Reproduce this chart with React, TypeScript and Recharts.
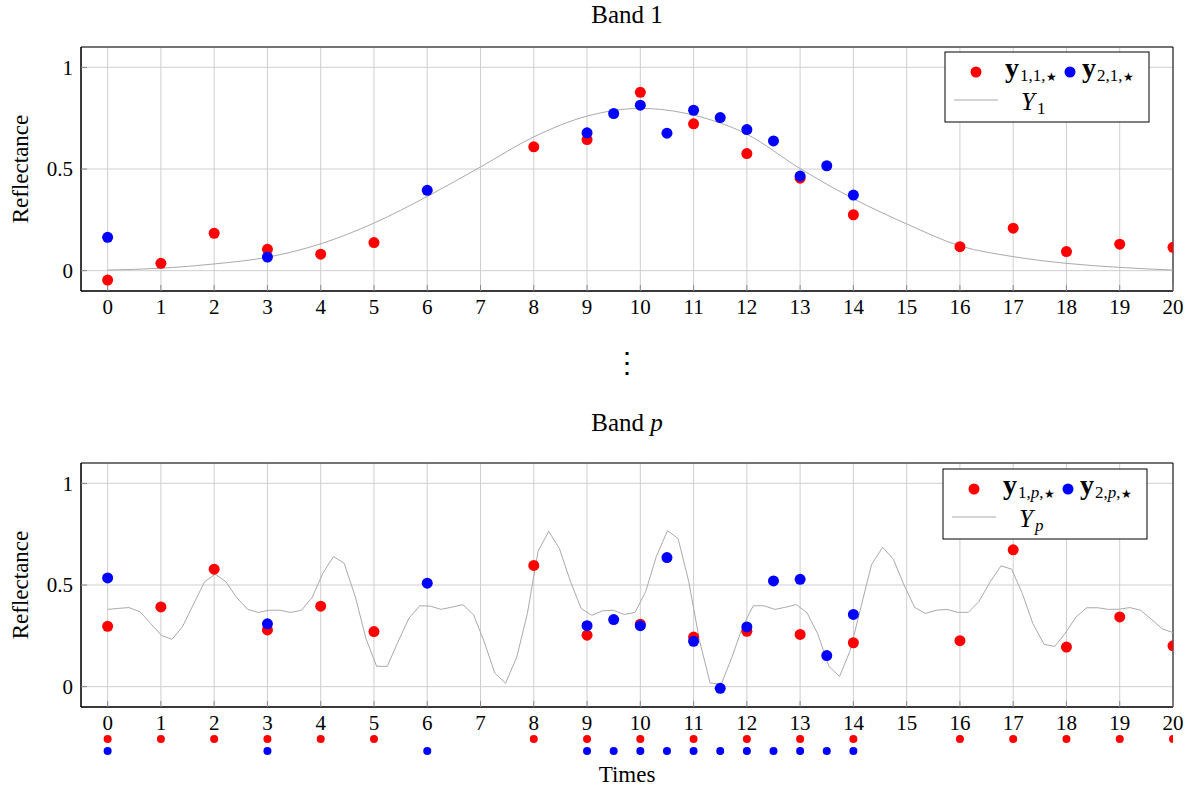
import { ComposedChart, ScatterChart, Scatter, Line, XAxis, YAxis, CartesianGrid, ReferenceArea } from 'recharts'

const FONT = '"Liberation Serif", "Times New Roman", serif'

const xTicks = [0, 1, 2, 3, 4, 5, 6, 7, 8, 9, 10, 11, 12, 13, 14, 15, 16, 17, 18, 19, 20]
const yTicks = [0, 0.5, 1]

// observation times of the two sensors
const redTimes = [0, 1, 2, 3, 4, 5, 8, 9, 10, 11, 12, 13, 14, 16, 17, 18, 19, 20]
const blueTimes = [0, 3, 6, 9, 9.5, 10, 10.5, 11, 11.5, 12, 12.5, 13, 13.5, 14]

// band 1
const band1Red = [-0.046, 0.036, 0.184, 0.105, 0.081, 0.138, 0.609, 0.645, 0.877, 0.722, 0.576, 0.455, 0.275, 0.118, 0.209, 0.094, 0.13, 0.115]
const band1Blue = [0.164, 0.067, 0.395, 0.678, 0.773, 0.814, 0.676, 0.789, 0.753, 0.694, 0.638, 0.465, 0.516, 0.372]
const band1Curve = [0.003, 0.012, 0.033, 0.066, 0.132, 0.234, 0.365, 0.51, 0.658, 0.76, 0.798, 0.765, 0.671, 0.502, 0.354, 0.23, 0.122, 0.069, 0.036, 0.016, 0.003]

// band p
const bandPRed = [0.297, 0.392, 0.578, 0.279, 0.396, 0.271, 0.596, 0.253, 0.307, 0.244, 0.272, 0.257, 0.216, 0.226, 0.673, 0.195, 0.343, 0.201]
const bandPBlue = [0.535, 0.309, 0.509, 0.3, 0.33, 0.3, 0.635, 0.223, -0.008, 0.294, 0.52, 0.528, 0.153, 0.355]
const bandPTimes = [
  0, 0.2, 0.4, 0.61, 0.81, 1.01, 1.21, 1.41, 1.62, 1.82,
  2.02, 2.22, 2.42, 2.63, 2.83, 3.03, 3.23, 3.43, 3.64, 3.84,
  4.04, 4.24, 4.44, 4.65, 4.85, 5.05, 5.25, 5.45, 5.66, 5.86,
  6.06, 6.26, 6.46, 6.67, 6.87, 7.07, 7.27, 7.47, 7.68, 7.88,
  8.08, 8.28, 8.48, 8.69, 8.89, 9.09, 9.29, 9.49, 9.7, 9.9,
  10.1, 10.3, 10.51, 10.71, 10.91, 11.11, 11.31, 11.52, 11.72, 11.92,
  12.12, 12.32, 12.53, 12.73, 12.93, 13.13, 13.33, 13.54, 13.74, 13.94,
  14.14, 14.34, 14.55, 14.75, 14.95, 15.15, 15.35, 15.56, 15.76, 15.96,
  16.16, 16.36, 16.57, 16.77, 16.97, 17.17, 17.37, 17.58, 17.78, 17.98,
  18.18, 18.38, 18.59, 18.79, 18.99, 19.19, 19.39, 19.6, 19.8, 20,
]
const bandPCurve = [
  0.38, 0.385, 0.389, 0.368, 0.31, 0.252, 0.233, 0.297, 0.41, 0.516,
  0.553, 0.516, 0.439, 0.38, 0.365, 0.376, 0.376, 0.365, 0.376, 0.439,
  0.558, 0.64, 0.607, 0.442, 0.236, 0.1, 0.1, 0.22, 0.338, 0.398,
  0.396, 0.38, 0.391, 0.403, 0.353, 0.22, 0.066, 0.017, 0.145, 0.36,
  0.665, 0.764, 0.68, 0.516, 0.384, 0.351, 0.373, 0.376, 0.355, 0.365,
  0.467, 0.64, 0.767, 0.728, 0.516, 0.228, 0.018, 0.013, 0.145, 0.294,
  0.398, 0.398, 0.38, 0.391, 0.404, 0.363, 0.26, 0.1, 0.05, 0.178,
  0.39, 0.6, 0.686, 0.627, 0.5, 0.39, 0.36, 0.376, 0.38, 0.365,
  0.366, 0.42, 0.516, 0.594, 0.578, 0.459, 0.31, 0.208, 0.198, 0.264,
  0.343, 0.388, 0.388, 0.38, 0.381, 0.389, 0.376, 0.33, 0.284, 0.266,
]

const RED = '#ff0000'
const BLUE = '#0000ff'
const GRID = '#cfcfcf'
const CURVE = '#aaaaaa'

const pairs = (ts: number[], vs: number[]) => ts.map((t, i) => ({ t, v: vs[i] }))

const dot = (fill: string, r: number) => (p: any) => <circle cx={p.cx} cy={p.cy} r={r} fill={fill} />

// serif tick labels (the default tick text ignores the family)
const XTick = (p: any) => (
  <text x={p.x} y={p.y} dy="0.71em" textAnchor="middle" fontSize={21} fontFamily={FONT} fill="#000">
    {p.payload.value}
  </text>
)
const YTick = (p: any) => (
  <text x={p.x} y={p.y} dy="0.355em" textAnchor="end" fontSize={21} fontFamily={FONT} fill="#000">
    {p.payload.value}
  </text>
)

function Band({ top, red, blue, curve, curveType }: any) {
  return (
    <div style={{ position: 'absolute', left: 0, top }}>
      <ComposedChart width={1203} height={332} margin={{ top: 46, right: 29, bottom: 0, left: 0 }}>
        <CartesianGrid stroke={GRID} />
        <XAxis type="number" dataKey="t" domain={[-0.5, 20]} ticks={xTicks} interval={0} allowDataOverflow
          height={41} tickSize={-6} tickMargin={14} tickLine={{ stroke: '#888' }} axisLine={{ stroke: '#000' }} tick={<XTick />} />
        <XAxis xAxisId="top" orientation="top" type="number" domain={[-0.5, 20]} ticks={xTicks} interval={0} allowDataOverflow
          height={1} tickSize={-6} tick={false} tickLine={{ stroke: '#888' }} axisLine={false} />
        <YAxis type="number" dataKey="v" domain={[-0.1, 1.1]} ticks={yTicks} interval={0} allowDataOverflow
          width={81} tickSize={-6} tickMargin={14} tickLine={{ stroke: '#888' }} axisLine={{ stroke: '#000' }} tick={<YTick />} />
        <YAxis yAxisId="right" orientation="right" type="number" domain={[-0.1, 1.1]} ticks={yTicks} interval={0} allowDataOverflow
          width={1} tickSize={-6} tick={false} tickLine={{ stroke: '#888' }} axisLine={false} />
        <Line data={curve} dataKey="v" type={curveType} stroke={CURVE} strokeWidth={1} dot={false} activeDot={false} isAnimationActive={false} />
        <Scatter data={red} dataKey="v" fill={RED} shape={dot(RED, 5.5)} isAnimationActive={false} />
        <Scatter data={blue} dataKey="v" fill={BLUE} shape={dot(BLUE, 5.5)} isAnimationActive={false} />
        <ReferenceArea x1={-0.5} x2={20} y1={-0.1} y2={1.1} fill="none" fillOpacity={0} stroke="#000" strokeWidth={1} ifOverflow="visible" />
      </ComposedChart>
    </div>
  )
}

function LegendBox({ x, y, band, italicBand }: any) {
  const sub = (n: number) => (
    <>
      {n},{italicBand ? <tspan fontStyle="italic">{band}</tspan> : band},<tspan fontSize={12}>★</tspan>
    </>
  )
  return (
    <g transform={`translate(${x},${y})`} fontFamily={FONT}>
      <rect x={0} y={0} width={204} height={70} fill="#fff" stroke="#000" strokeWidth={1} />
      <circle cx={31} cy={20} r={5.5} fill={RED} />
      <text x={60} y={25} fontSize={28} fontWeight="bold">y</text>
      <text x={75} y={29} fontSize={17}>{sub(1)}</text>
      <circle cx={125} cy={20} r={5.5} fill={BLUE} />
      <text x={137} y={25} fontSize={28} fontWeight="bold">y</text>
      <text x={152} y={29} fontSize={17}>{sub(2)}</text>
      <line x1={9} x2={53} y1={48} y2={48} stroke={CURVE} strokeWidth={1} />
      <text x={76} y={58} fontSize={25} fontStyle="italic">Y</text>
      <text x={92} y={62} fontSize={17} fontStyle={italicBand ? 'italic' : 'normal'}>{band}</text>
    </g>
  )
}

export default function App() {
  const b1Red = pairs(redTimes, band1Red)
  const b1Blue = pairs(blueTimes, band1Blue)
  const b1Curve = pairs(xTicks, band1Curve)
  const bpRed = pairs(redTimes, bandPRed)
  const bpBlue = pairs(blueTimes, bandPBlue)
  const bpCurve = pairs(bandPTimes, bandPCurve)
  const redRow = redTimes.map(t => ({ t, row: 'y1' }))
  const blueRow = blueTimes.map(t => ({ t, row: 'y2' }))

  return (
    <div style={{ position: 'absolute', left: 0, top: 0, width: 1203, height: 792, background: '#fff', fontFamily: FONT }}>
      <Band top={0} red={b1Red} blue={b1Blue} curve={b1Curve} curveType="monotone" />
      <Band top={416} red={bpRed} blue={bpBlue} curve={bpCurve} curveType="linear" />
      <div style={{ position: 'absolute', left: 0, top: 733 }}>
        <ScatterChart width={1203} height={24} margin={{ top: 0, right: 30, bottom: 0, left: 81 }}>
          <XAxis type="number" dataKey="t" domain={[-0.5, 20]} allowDataOverflow hide />
          <YAxis type="category" dataKey="row" allowDuplicatedCategory={false} reversed hide />
          <Scatter data={redRow} fill={RED} shape={dot(RED, 4)} isAnimationActive={false} />
          <Scatter data={blueRow} fill={BLUE} shape={dot(BLUE, 4)} isAnimationActive={false} />
        </ScatterChart>
      </div>
      <svg width={1203} height={792} style={{ position: 'absolute', left: 0, top: 0, pointerEvents: 'none' }}>
        <g fontFamily={FONT} fill="#000">
          <text x={627} y={23} textAnchor="middle" fontSize={25}>Band 1</text>
          <text x={627} y={431} textAnchor="middle" fontSize={25}>Band <tspan fontStyle="italic">p</tspan></text>
          <text x={627} y={372} textAnchor="middle" fontSize={28}>⋮</text>
          <text transform="translate(28,169) rotate(-90)" textAnchor="middle" fontSize={23}>Reflectance</text>
          <text transform="translate(28,585) rotate(-90)" textAnchor="middle" fontSize={23}>Reflectance</text>
          <text x={627} y={782} textAnchor="middle" fontSize={23}>Times</text>
        </g>
        <LegendBox x={945} y={52} band="1" italicBand={false} />
        <LegendBox x={943} y={469} band="p" italicBand={true} />
      </svg>
    </div>
  )
}
